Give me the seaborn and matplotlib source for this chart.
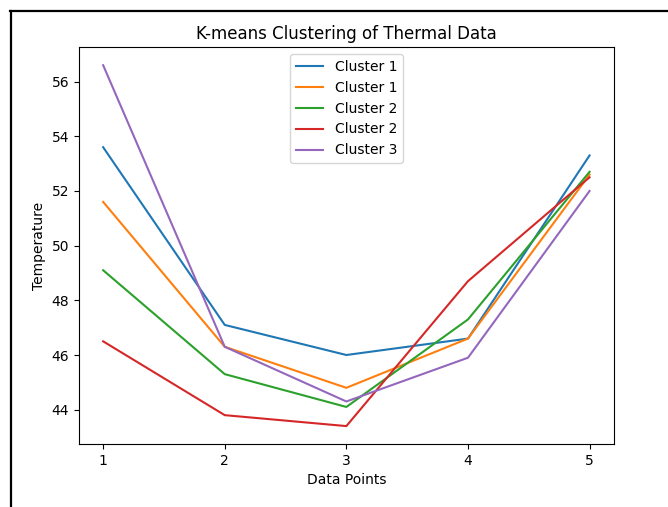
import matplotlib
matplotlib.use("Agg")
import matplotlib.pyplot as plt
from matplotlib.lines import Line2D
import seaborn as sns
import numpy as np

x_points = [1, 2, 3, 4, 5]
labels = ["Cluster 1", "Cluster 1", "Cluster 2", "Cluster 2", "Cluster 3"]
series_1a = [53.6, 47.1, 46.0, 46.6, 53.3]
series_1b = [51.6, 46.3, 44.8, 46.6, 52.6]
series_2a = [49.1, 45.3, 44.1, 47.3, 52.7]
series_2b = [46.5, 43.8, 43.4, 48.7, 52.5]
series_3 = [56.6, 46.3, 44.3, 45.9, 52.0]
all_series = [series_1a, series_1b, series_2a, series_2b, series_3]
colors = sns.color_palette("tab10", 5)

fig = plt.figure(figsize=(6.68, 5.07), dpi=100)
ax = fig.add_axes([0.118, 0.124, 0.801, 0.783])

for vals, lab, col in zip(all_series, labels, colors):
    sns.lineplot(x=x_points, y=vals, ax=ax, label=lab, color=col, linewidth=1.5)

ax.set_xticks(x_points)
ax.set_yticks([44, 46, 48, 50, 52, 54, 56])
ax.set_title("K-means Clustering of Thermal Data")
ax.set_xlabel("Data Points")
ax.set_ylabel("Temperature")
ax.legend(loc="upper center")

# screenshot border
fig.add_artist(Line2D([11/668, 11/668], [0, 1 - 11/507], color="black", linewidth=1.6, transform=fig.transFigure))
fig.add_artist(Line2D([10/668, 1], [1 - 11/507, 1 - 11/507], color="black", linewidth=1.6, transform=fig.transFigure))

fig.savefig("out.png", dpi=100)
